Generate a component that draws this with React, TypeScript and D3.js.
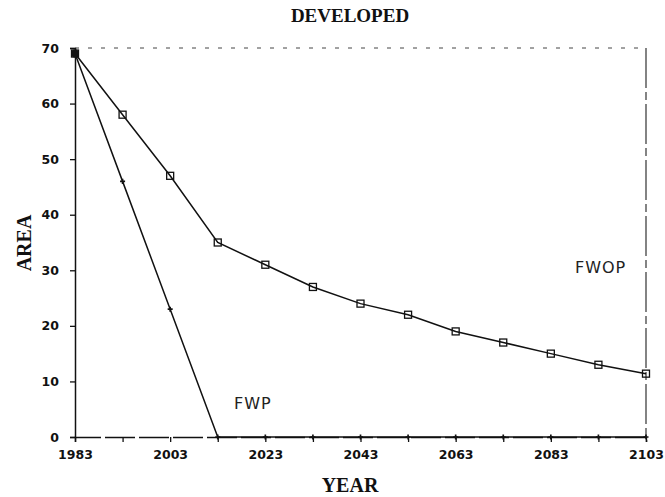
import { useEffect, useRef } from 'react';
import * as d3 from 'd3';

// values, one point every 10 years
const years = [1983, 1993, 2003, 2013, 2023, 2033, 2043, 2053, 2063, 2073, 2083, 2093, 2103];
const fwop = [69, 58, 47, 35, 31, 27, 24, 22, 19, 17, 15, 13, 11.4];
const fwp = [69, 46, 23, 0, 0, 0, 0, 0, 0, 0, 0, 0, 0];
const yTicks = [0, 10, 20, 30, 40, 50, 60, 70];
const xLabelYears = [1983, 2003, 2023, 2043, 2063, 2083, 2103];

export default function App() {
  const svgRef = useRef<SVGSVGElement>(null);

  useEffect(() => {
    if (!svgRef.current) return;
    const root = d3.select(svgRef.current);
    root.selectAll('*').remove();

    const width = 665;
    const height = 497;
    const margin = { top: 48, right: 19, bottom: 60, left: 75 };
    const innerW = width - margin.left - margin.right;
    const innerH = height - margin.top - margin.bottom;
    const ink = '#111';

    const x = d3.scaleLinear().domain([1983, 2103]).range([0, innerW]);
    const y = d3.scaleLinear().domain([0, 70]).range([innerH, 0]);

    root.append('rect').attr('width', width).attr('height', height).attr('fill', '#fff');

    // title
    root
      .append('text')
      .attr('x', 350)
      .attr('y', 22)
      .attr('text-anchor', 'middle')
      .attr('font-family', '"Liberation Serif", serif')
      .attr('font-weight', 'bold')
      .attr('font-size', 19)
      .attr('fill', ink)
      .text('DEVELOPED');

    const g = root.append('g').attr('transform', `translate(${margin.left},${margin.top})`);

    // dashed frame on top, solid-ish frame on the right
    g.append('line')
      .attr('x1', 0)
      .attr('x2', innerW)
      .attr('y1', 0)
      .attr('y2', 0)
      .attr('stroke', '#444')
      .attr('stroke-width', 1)
      .attr('stroke-dasharray', '4,9');
    g.append('line')
      .attr('x1', innerW)
      .attr('x2', innerW)
      .attr('y1', 0)
      .attr('y2', innerH)
      .attr('stroke', '#333')
      .attr('stroke-width', 1.2)
      .attr('stroke-dasharray', '40,4,8,4');

    const tickFont = (sel: d3.Selection<d3.BaseType, unknown, SVGGElement, unknown>) =>
      sel
        .attr('font-family', '"DejaVu Sans", sans-serif')
        .attr('font-weight', 'bold')
        .attr('font-size', 12.5)
        .attr('fill', ink);

    // y axis
    const yAxis = g
      .append('g')
      .call(d3.axisLeft(y).tickValues(yTicks).tickSize(5).tickPadding(11).tickFormat(d3.format('d')));
    yAxis.select('.domain').attr('stroke', ink).attr('stroke-width', 1.5);
    yAxis.selectAll('.tick line').attr('stroke', ink).attr('stroke-width', 1.3);
    yAxis.selectAll('.tick text').call(tickFont);

    // x axis
    const xAxis = g
      .append('g')
      .attr('transform', `translate(0,${innerH})`)
      .call(
        d3
          .axisBottom(x)
          .tickValues(years)
          .tickSize(5)
          .tickPadding(8)
          .tickFormat((d) => (xLabelYears.includes(+d) ? String(d) : ''))
      );
    xAxis.select('.domain').attr('stroke', ink).attr('stroke-width', 1.5).attr('stroke-dasharray', '30,4');
    xAxis.selectAll('.tick line').attr('stroke', ink).attr('stroke-width', 1.3);
    xAxis.selectAll('.tick text').call(tickFont);

    // axis titles
    root
      .append('text')
      .attr('x', 350)
      .attr('y', 492)
      .attr('text-anchor', 'middle')
      .attr('font-family', '"Liberation Serif", serif')
      .attr('font-weight', 'bold')
      .attr('font-size', 20)
      .attr('fill', ink)
      .text('YEAR');
    root
      .append('text')
      .attr('transform', 'translate(31,243) rotate(-90)')
      .attr('text-anchor', 'middle')
      .attr('font-family', '"Liberation Serif", serif')
      .attr('font-weight', 'bold')
      .attr('font-size', 20)
      .attr('fill', ink)
      .text('AREA');

    const line = d3
      .line<number>()
      .x((_, i) => x(years[i]))
      .y((d) => y(d));

    // FWOP series with square markers
    g.append('path')
      .attr('d', line(fwop))
      .attr('fill', 'none')
      .attr('stroke', ink)
      .attr('stroke-width', 1.5);
    g.selectAll('rect.fwop')
      .data(fwop)
      .enter()
      .append('rect')
      .attr('class', 'fwop')
      .attr('x', (_, i) => x(years[i]) - 3.5)
      .attr('y', (d) => y(d) - 3.5)
      .attr('width', 7)
      .attr('height', 7)
      .attr('fill', 'none')
      .attr('stroke', ink)
      .attr('stroke-width', 1.3);

    // FWP series with plus markers
    g.append('path')
      .attr('d', line(fwp))
      .attr('fill', 'none')
      .attr('stroke', ink)
      .attr('stroke-width', 1.5);
    const plus = d3.symbol().type(d3.symbolCross).size(14);
    g.selectAll('path.fwp')
      .data(fwp)
      .enter()
      .append('path')
      .attr('class', 'fwp')
      .attr('d', plus)
      .attr('transform', (d, i) => `translate(${x(years[i])},${y(d)})`)
      .attr('fill', ink);

    // blob where both series start
    g.append('circle').attr('cx', x(years[0])).attr('cy', y(69)).attr('r', 4).attr('fill', ink);

    // series labels
    const labelStyle = (sel: d3.Selection<SVGTextElement, unknown, null, undefined>) =>
      sel
        .attr('font-family', '"DejaVu Sans", sans-serif')
        .attr('font-size', 16)
        .attr('letter-spacing', 1)
        .attr('fill', '#222');
    g.append('text').attr('x', 500).attr('y', 225).text('FWOP').call(labelStyle);
    g.append('text').attr('x', 159).attr('y', 361).text('FWP').call(labelStyle);
  }, []);

  return (
    <div style={{ position: 'fixed', left: 0, top: 0 }}>
      <svg ref={svgRef} width={665} height={497} style={{ display: 'block' }} />
    </div>
  );
}
